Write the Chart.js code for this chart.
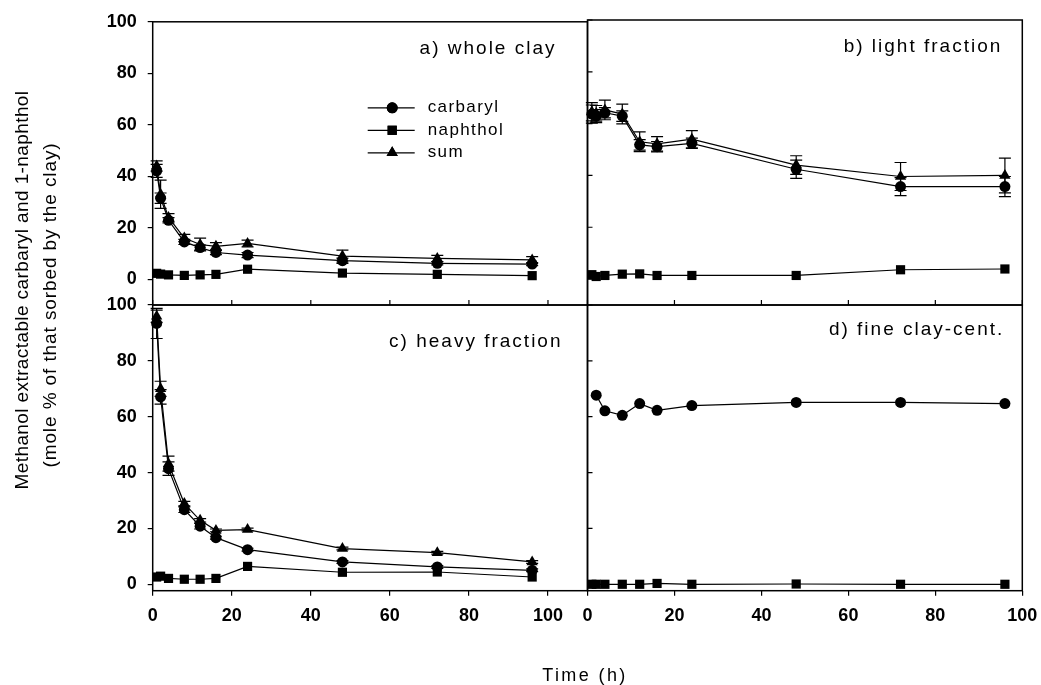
<!DOCTYPE html>
<html>
<head>
<meta charset="utf-8">
<script src="https://cdn.jsdelivr.net/npm/chart.js@4.4.1/dist/chart.umd.min.js"></script>
<style>
  body { margin:0; background:#fff; width:1041px; height:685px; overflow:hidden; position:relative; font-family:"Liberation Sans", Arial, sans-serif; color:#000; }
  canvas { position:absolute; left:0; top:0; }
  .ytitle { position:absolute; white-space:nowrap; transform:translate(-50%,-50%) rotate(-90deg); font-size:19px; }
  #xtitle { position:absolute; left:585px; top:675px; transform:translate(-50%,-50%); font-size:18px; letter-spacing:2.4px; white-space:nowrap; }
</style>
</head>
<body>
<canvas id="panelA" width="1100" height="700"></canvas>
<canvas id="panelB" width="1100" height="700"></canvas>
<canvas id="panelC" width="1100" height="700"></canvas>
<canvas id="panelD" width="1100" height="700"></canvas>
<div class="ytitle" style="left:22px; top:290px; letter-spacing:0.4px;">Methanol extractable carbaryl and 1-naphthol</div>
<div class="ytitle" style="left:50px; top:305px; letter-spacing:0.9px;">(mole % of that sorbed by the clay)</div>
<div id="xtitle">Time (h)</div>
<script>
  // DATA

var times = [1, 2, 4, 8, 12, 16, 24, 48, 72, 96];
var timesD = [2, 4, 8, 12, 16, 24, 48, 72, 96];
var xTicks = [0, 20, 40, 60, 80, 100];
var yTicks = [0, 20, 40, 60, 80, 100];

// a) whole clay
var carbarylA = [42.1, 31.5, 22.9, 14.5, 12.3, 10.4, 9.4, 7.2, 6.2, 5.9];
var naphtholA = [2.3, 2.0, 1.7, 1.5, 1.7, 1.9, 3.9, 2.4, 1.9, 1.4];
var sumA = [44, 33, 24, 16, 13.5, 12.8, 13.9, 9, 8.1, 7.5];
var carbarylErrA = [2.5, 2, 1, 1, 1, 0.8, 1, 1, 0.6, 0.6];
var sumErrA = [2, 5.5, 1.5, 1.4, 2.5, 1.4, 1.3, 2.3, 1.2, 1.3];

// b) light fraction
var carbarylB = [63.7, 62.9, 64.2, 62.9, 51.8, 51.1, 52.4, 42.4, 35.7, 35.7];
var naphtholB = [1.7, 1.0, 1.4, 1.9, 2.0, 1.4, 1.4, 1.4, 3.6, 3.9];
var sumB = [64.6, 64, 65.3, 63.7, 53, 52.2, 54, 44, 39.6, 40];
var carbarylErrB = [3.5, 2.5, 2, 2, 2, 2, 2, 3.5, 3.5, 3.9];
var sumErrB = [3.5, 3, 3.8, 3.8, 3.8, 2.8, 3.3, 3.6, 5.4, 6.7];

// c) heavy fraction
var carbarylC = [93.4, 67.1, 41.4, 26.7, 20.8, 16.7, 12.4, 8.0, 6.2, 5.0];
var naphtholC = [2.6, 2.9, 2.1, 1.8, 1.8, 2.1, 6.4, 4.3, 4.4, 2.6];
var sumC = [96, 70, 43.2, 28.9, 22.9, 19.3, 19.6, 12.8, 11.3, 8.0];
var carbarylErrC = [5.4, 2.6, 2.4, 1, 1, 0.5, 0.5, 0.5, 0.5, 0.5];
var sumErrC = [2.2, 2.7, 2.7, 0.8, 0.6, 0.5, 0.5, 0.5, 0.5, 0.5];

// d) fine clay-cent.
var carbarylD = [67.7, 62.1, 60.5, 64.7, 62.3, 64.0, 65.1, 65.1, 64.7];
var naphtholD = [0, 0, 0, 0, 0, 0.3, 0, 0.1, 0, 0];

var panelLabels = ['a) whole clay', 'b) light fraction', 'c) heavy fraction', 'd) fine clay-cent.'];

var FONT = '"Liberation Sans", Arial, sans-serif';
var CW = 1100, CH = 700;      // canvas size (bigger than the page so label overflow never squeezes a panel)
var YW = 70, XH = 50;         // room kept for the tick labels

function pts(xs, ys) {
  return xs.map((x, i) => ({x: x, y: ys[i]}));
}

function series(name, xs, ys, errs) {
  var style = {carbaryl: ['circle', 5.5], naphthol: ['rect', 6.5], sum: ['triangle', 6.5]}[name];
  return {
    label: name,
    data: pts(xs, ys),
    errors: errs,
    borderColor: '#000',
    backgroundColor: '#000',
    borderWidth: 1.2,
    pointStyle: style[0],
    pointRadius: style[1],
    pointBorderWidth: 0,
    pointBackgroundColor: '#000',
    tension: 0,
    clip: false
  };
}

// ERROR BARS
var errorBars = {
  id: 'errorBars',
  beforeDatasetsDraw(chart) {
    var ctx = chart.ctx, xs = chart.scales.x, ys = chart.scales.y;
    ctx.save();
    ctx.strokeStyle = '#000';
    ctx.lineWidth = 1.2;
    chart.data.datasets.forEach(ds => {
      if (!ds.errors) return;
      ds.data.forEach((p, i) => {
        var e = ds.errors[i];
        var px = xs.getPixelForValue(p.x);
        var top = ys.getPixelForValue(p.y + e), bot = ys.getPixelForValue(p.y - e);
        ctx.beginPath();
        ctx.moveTo(px, top); ctx.lineTo(px, bot);
        ctx.moveTo(px - 6, top); ctx.lineTo(px + 6, top);
        ctx.moveTo(px - 6, bot); ctx.lineTo(px + 6, bot);
        ctx.stroke();
      });
    });
    ctx.restore();
  }
};

// FRAME, INNER TICKS, PANEL LABEL, LEGEND
var frame = {
  id: 'frame',
  afterDraw(chart, args, opts) {
    var ctx = chart.ctx, a = chart.chartArea, xs = chart.scales.x, ys = chart.scales.y;
    ctx.save();
    ctx.strokeStyle = '#000';
    ctx.lineWidth = 1.2;
    ctx.beginPath();
    if (opts.inX) xTicks.forEach(v => { var px = xs.getPixelForValue(v); ctx.moveTo(px, a.bottom); ctx.lineTo(px, a.bottom - 5); });
    if (opts.inY) yTicks.forEach(v => { var py = ys.getPixelForValue(v); ctx.moveTo(a.left, py); ctx.lineTo(a.left + 5, py); });
    ctx.stroke();
    ctx.lineWidth = 1.5;
    ctx.strokeRect(a.left, a.top, a.right - a.left, a.bottom - a.top);

    ctx.fillStyle = '#000';
    ctx.font = '19px ' + FONT;
    ctx.letterSpacing = '2px';
    ctx.textAlign = 'right';
    ctx.textBaseline = 'middle';
    ctx.fillText(opts.label, a.right - opts.labelRight, a.top + opts.labelY);

    if (opts.legend) {
      ctx.font = '17px ' + FONT;
      ctx.letterSpacing = '1.4px';
      ctx.textAlign = 'left';
      chart.data.datasets.forEach((ds, i) => {
        var y = a.top + 86 + i * 22.5;
        ctx.lineWidth = 1.2;
        ctx.beginPath();
        ctx.moveTo(a.left + 215, y); ctx.lineTo(a.left + 262, y);
        ctx.stroke();
        Chart.helpers.drawPoint(ctx, {pointStyle: ds.pointStyle, radius: ds.pointRadius, rotation: 0, borderWidth: 0}, a.left + 239.5, y);
        ctx.fill();
        ctx.fillText(ds.label, a.left + 275, y);
      });
    }
    ctx.restore();
  }
};

function makePanel(id, box, xMax, yMin, showX, showY, datasets, frameOpts) {
  var tickFont = {family: FONT, size: 18, weight: 'bold'};
  var yw = showY ? YW : 0, xh = showX ? XH : 0;
  return new Chart(id, {
    type: 'line',
    data: {datasets: datasets},
    options: {
      responsive: false,
      animation: false,
      events: [],
      layout: {padding: {left: box[0] - yw, top: box[1], right: CW - box[2], bottom: CH - box[3] - xh}},
      plugins: {legend: {display: false}, tooltip: {enabled: false}, frame: frameOpts},
      scales: {
        x: {
          type: 'linear', min: 0, max: xMax,
          afterFit: s => { s.height = xh; },
          afterBuildTicks: s => { s.ticks = xTicks.map(v => ({value: v})); },
          ticks: {display: showX, font: tickFont, color: '#000', padding: 10, maxRotation: 0, autoSkip: false},
          grid: {drawOnChartArea: false, drawTicks: showX, tickLength: 5, color: '#000', lineWidth: 1.2},
          border: {display: false}
        },
        y: {
          type: 'linear', min: yMin, max: 100,
          afterFit: s => { s.width = yw; },
          afterBuildTicks: s => { s.ticks = yTicks.map(v => ({value: v})); },
          ticks: {display: showY, font: tickFont, color: '#000', padding: 11, autoSkip: false},
          grid: {drawOnChartArea: false, drawTicks: showY, tickLength: 5, color: '#000', lineWidth: 1.2},
          border: {display: false}
        }
      }
    },
    plugins: [errorBars, frame]
  });
}

// PANELS
var leftX = 152.7, midX = 587.5, rightX = 1022.3;
var topY = 20, midY = 305, botY = 590.7;

makePanel('panelA', [leftX, topY, midX, midY], 110, -10, false, true, [
  series('carbaryl', times, carbarylA, carbarylErrA),
  series('naphthol', times, naphtholA),
  series('sum', times, sumA, sumErrA)
], {inX: true, inY: false, label: panelLabels[0], labelRight: 31, labelY: 27, legend: true});

makePanel('panelB', [midX, topY, rightX, midY], 100, -10, false, false, [
  series('carbaryl', times, carbarylB, carbarylErrB),
  series('naphthol', times, naphtholB),
  series('sum', times, sumB, sumErrB)
], {inX: true, inY: true, label: panelLabels[1], labelRight: 20, labelY: 27});

makePanel('panelC', [leftX, midY, midX, botY], 110, -2.3, true, true, [
  series('carbaryl', times, carbarylC, carbarylErrC),
  series('naphthol', times, naphtholC),
  series('sum', times, sumC, sumErrC)
], {inX: false, inY: false, label: panelLabels[2], labelRight: 25, labelY: 37});

makePanel('panelD', [midX, midY, rightX, botY], 100, -2.3, true, false, [
  series('carbaryl', timesD, carbarylD),
  series('naphthol', times, naphtholD)
], {inX: false, inY: true, label: panelLabels[3], labelRight: 18, labelY: 25});
</script>
</body>
</html>
